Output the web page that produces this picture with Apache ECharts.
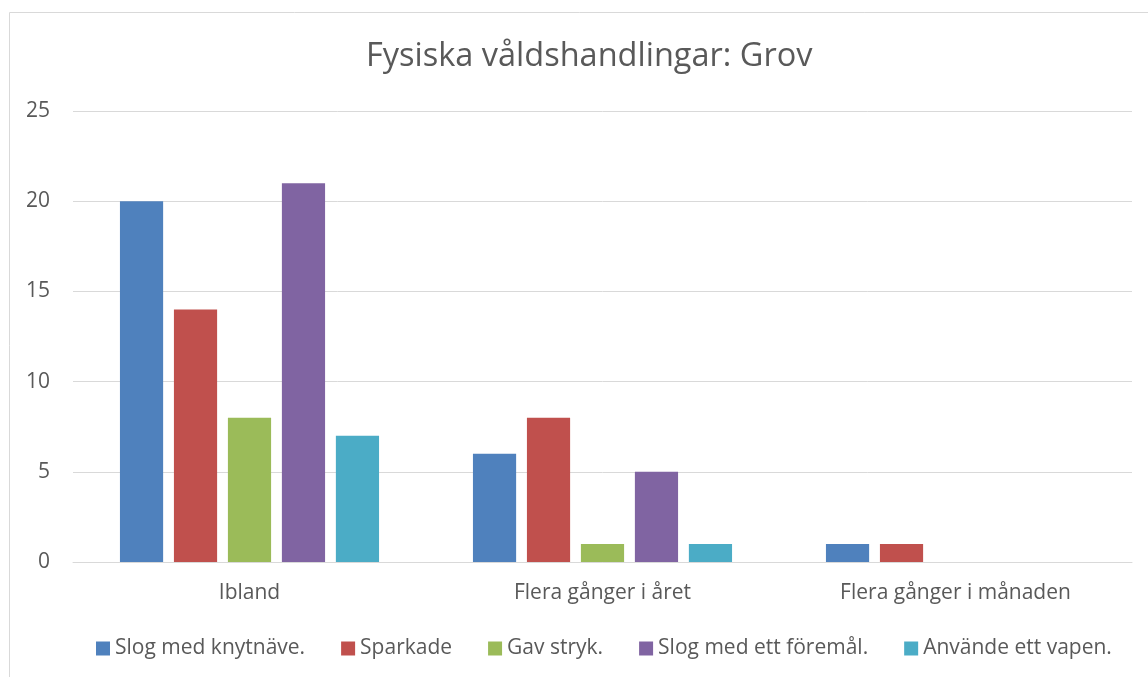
<!DOCTYPE html>
<html>
<head>
<meta charset="utf-8">
<script src="https://cdn.jsdelivr.net/npm/echarts@6/dist/echarts.min.js"></script>
<style>html,body{margin:0;padding:0;background:#fff;}#c{width:1148px;height:677px;}</style>
</head>
<body>
<div id="c"></div>
<script>
const categories = ['Ibland', 'Flera gånger i året', 'Flera gånger i månaden'];
const seriesNames = ['Slog med knytnäve.', 'Sparkade', 'Gav stryk.', 'Slog med ett föremål.', 'Använde ett vapen.'];
const knytnave = [20, 6, 1];
const sparkade = [14, 8, 1];
const gavStryk = [8, 1, 0];
const foremal = [21, 5, 0];
const vapen = [7, 1, 0];
const colors = ['#4F81BD', '#C0504D', '#9BBB59', '#8064A2', '#4BACC6'];
const seriesValues = [knytnave, sparkade, gavStryk, foremal, vapen];

const FONT = '"Open Sans"';
const chart = echarts.init(document.getElementById('c'));
chart.setOption({
  animation: false,
  color: colors,
  title: {
    text: 'Fysiska våldshandlingar: Grov',
    left: 361,
    top: 35,
    textStyle: { fontFamily: FONT, fontSize: 32.5, fontWeight: 'normal', color: '#595959' }
  },
  graphic: [{
    type: 'rect',
    shape: { x: 9.5, y: 12.5, width: 1300, height: 800 },
    style: { fill: null, stroke: '#d9d9d9', lineWidth: 1 },
    silent: true
  }],
  legend: {
    left: 91,
    top: 633,
    itemWidth: 14,
    itemHeight: 14,
    itemGap: 36,
    icon: 'rect',
    textStyle: { fontFamily: FONT, fontSize: 21, color: '#595959' },
    data: seriesNames
  },
  grid: { left: 73, right: 16, top: 111, bottom: 115, containLabel: false },
  xAxis: {
    type: 'category',
    data: categories,
    axisLine: { lineStyle: { color: '#d9d9d9', width: 1 } },
    axisTick: { show: false },
    axisLabel: { fontFamily: FONT, fontSize: 21, color: '#595959', margin: 21 }
  },
  yAxis: {
    type: 'value',
    min: 0,
    max: 25,
    interval: 5,
    axisLine: { show: false },
    axisTick: { show: false },
    splitLine: { lineStyle: { color: '#d9d9d9', width: 1 } },
    axisLabel: { fontFamily: FONT, fontSize: 21, color: '#595959', margin: 23 }
  },
  series: seriesNames.map((n, i) => ({
    name: n,
    type: 'bar',
    data: seriesValues[i],
    barGap: '25%',
    barCategoryGap: '26.6%',
    itemStyle: { color: colors[i] }
  }))
});
</script>
</body>
</html>
